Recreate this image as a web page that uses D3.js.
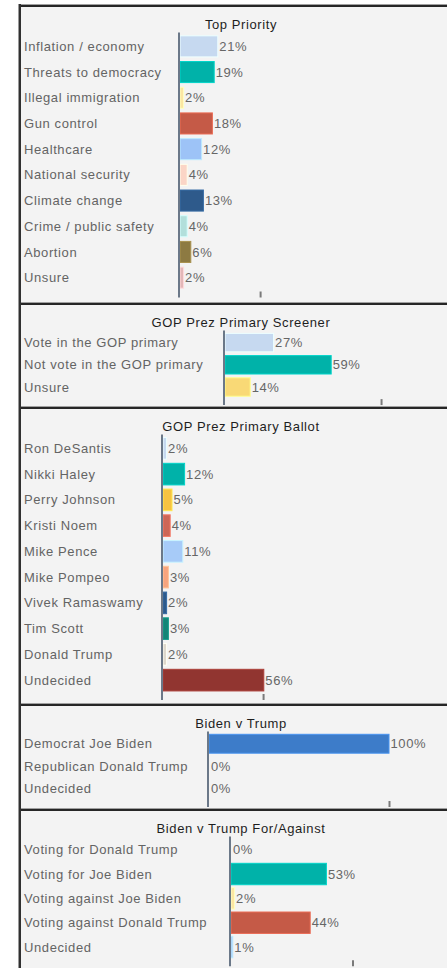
<!DOCTYPE html>
<html>
<head>
<meta charset="utf-8">
<script src="https://cdn.jsdelivr.net/npm/d3@7"></script>
<style>
html,body{margin:0;padding:0;background:#fff;}
svg{display:block;}
text{font-family:"Liberation Sans",Arial,sans-serif;font-size:13px;letter-spacing:0.6px;}
</style>
</head>
<body>
<svg id="chart" width="447" height="968"></svg>
<script>
// ---- data ----
const titles = ["Top Priority","GOP Prez Primary Screener","GOP Prez Primary Ballot","Biden v Trump","Biden v Trump For/Against"];

const priorityCats = ["Inflation / economy","Threats to democracy","Illegal immigration","Gun control","Healthcare","National security","Climate change","Crime / public safety","Abortion","Unsure"];
const priorityVals = [21,19,2,18,12,4,13,4,6,2];
const priorityColors = ["#c6d9f0","#00b2a9","#fbe6a2","#c55a47","#9dc3f7","#fbd5c6","#2e5a8b","#b2dfdb","#8d7a42","#e3b7b8"];

const screenerCats = ["Vote in the GOP primary","Not vote in the GOP primary","Unsure"];
const screenerVals = [27,59,14];
const screenerColors = ["#c6d9f0","#00b2a9","#f9d976"];

const ballotCats = ["Ron DeSantis","Nikki Haley","Perry Johnson","Kristi Noem","Mike Pence","Mike Pompeo","Vivek Ramaswamy","Tim Scott","Donald Trump","Undecided"];
const ballotVals = [2,12,5,4,11,3,2,3,2,56];
const ballotColors = ["#c6d9f0","#00b2a9","#f5c242","#cd6656","#a7cbf8","#f7a47e","#2e5a8b","#138577","#ddd7cc","#913530"];

const h2hCats = ["Democrat Joe Biden","Republican Donald Trump","Undecided"];
const h2hVals = [100,0,0];
const h2hColors = ["#3d7cc9","#c6d9f0","#f9d976"];

const forAgainstCats = ["Voting for Donald Trump","Voting for Joe Biden","Voting against Joe Biden","Voting against Donald Trump","Undecided"];
const forAgainstVals = [0,53,2,44,1];
const forAgainstColors = ["#c6d9f0","#00b2a9","#fbe6a2","#c55a47","#9dc3f7"];

const tickVals = [44.5, 86.7, 55.6, 100, 67.5];

// ---- layout ----
const W = 447, H = 968;
const layout = [
  {top:5,   axisX:179, step:25.7,  pad:0.18},
  {top:303, axisX:224, step:22.2,  pad:0.17},
  {top:407, axisX:162, step:25.75, pad:0.16},
  {top:704, axisX:208, step:22.5,  pad:0.16},
  {top:809, axisX:230, step:24.35, pad:0.12}
];
const panels = [
  {cats:priorityCats, vals:priorityVals, colors:priorityColors},
  {cats:screenerCats, vals:screenerVals, colors:screenerColors},
  {cats:ballotCats, vals:ballotVals, colors:ballotColors},
  {cats:h2hCats, vals:h2hVals, colors:h2hColors},
  {cats:forAgainstCats, vals:forAgainstVals, colors:forAgainstColors}
];

const svg = d3.select("#chart");
svg.append("rect").attr("x",0).attr("y",0).attr("width",W).attr("height",H).attr("fill","#ffffff");
// panel background
svg.append("rect").attr("x",20).attr("y",5).attr("width",W-20).attr("height",H-5).attr("fill","#f3f3f3");

const xScale = d3.scaleLinear().domain([0,100]).range([0,180]);

panels.forEach((p,i)=>{
  const L = layout[i];
  const g = svg.append("g");
  const bandStart = L.top + 28.5;
  const bandEnd = bandStart + L.step * p.cats.length;
  const y = d3.scaleBand().domain(p.cats).range([bandStart,bandEnd]).paddingInner(L.pad).paddingOuter(L.pad/2);
  const x0 = L.axisX + 1;

  // title
  g.append("text").attr("x",241).attr("y",L.top+19).attr("dy","0.35em")
    .attr("text-anchor","middle").attr("fill","#1e1e1e").text(titles[i]);

  // category labels
  g.selectAll("text.cat").data(p.cats).join("text").attr("class","cat")
    .attr("x",24).attr("y",d=>y(d)+y.bandwidth()/2).attr("dy","0.35em")
    .attr("fill","#646464").text(d=>d);

  // bars
  const rows = p.cats.map((c,k)=>({c, v:p.vals[k], col:p.colors[k]}));
  g.selectAll("rect.bar").data(rows).join("rect").attr("class","bar")
    .attr("x",x0).attr("y",d=>y(d.c))
    .attr("width",d=>xScale(d.v)).attr("height",y.bandwidth())
    .attr("fill",d=>d.col)
    .attr("stroke",d=>d.v>0?d3.color(d.col).brighter(0.5).formatHex():"none")
    .attr("stroke-width",1);

  // value labels
  g.selectAll("text.val").data(rows).join("text").attr("class","val")
    .attr("x",d=>x0 + xScale(d.v) + (d.v>0?1.5:2))
    .attr("y",d=>y(d.c)+y.bandwidth()/2).attr("dy","0.35em")
    .attr("fill","#666666").text(d=>d.v+"%");

  // axis line
  g.append("line").attr("x1",L.axisX).attr("x2",L.axisX)
    .attr("y1",bandStart-1).attr("y2",bandEnd+7)
    .attr("stroke","#6b7888").attr("stroke-width",2);

  // tick
  const axis = d3.axisBottom(d3.scaleLinear().domain([0,100]).range([x0, x0+180]))
    .tickValues([tickVals[i]]).tickSize(6).tickFormat("");
  const ag = g.append("g").attr("transform",`translate(0,${bandEnd+1})`).call(axis);
  ag.select(".domain").remove();
  ag.selectAll(".tick line").attr("stroke","#7a7a7a").attr("stroke-width",2);

  // separator above panel
  svg.append("rect").attr("x",20).attr("y",L.top-1).attr("width",W-20).attr("height",1).attr("fill","#a0a0a0");
  svg.append("rect").attr("x",20).attr("y",L.top).attr("width",W-20).attr("height",2).attr("fill","#262626");
});

// left border
svg.append("rect").attr("x",18).attr("y",4).attr("width",1).attr("height",H-4).attr("fill","#9a9a9a");
svg.append("rect").attr("x",19).attr("y",4).attr("width",2).attr("height",H-4).attr("fill","#303030");
</script>
</body>
</html>
